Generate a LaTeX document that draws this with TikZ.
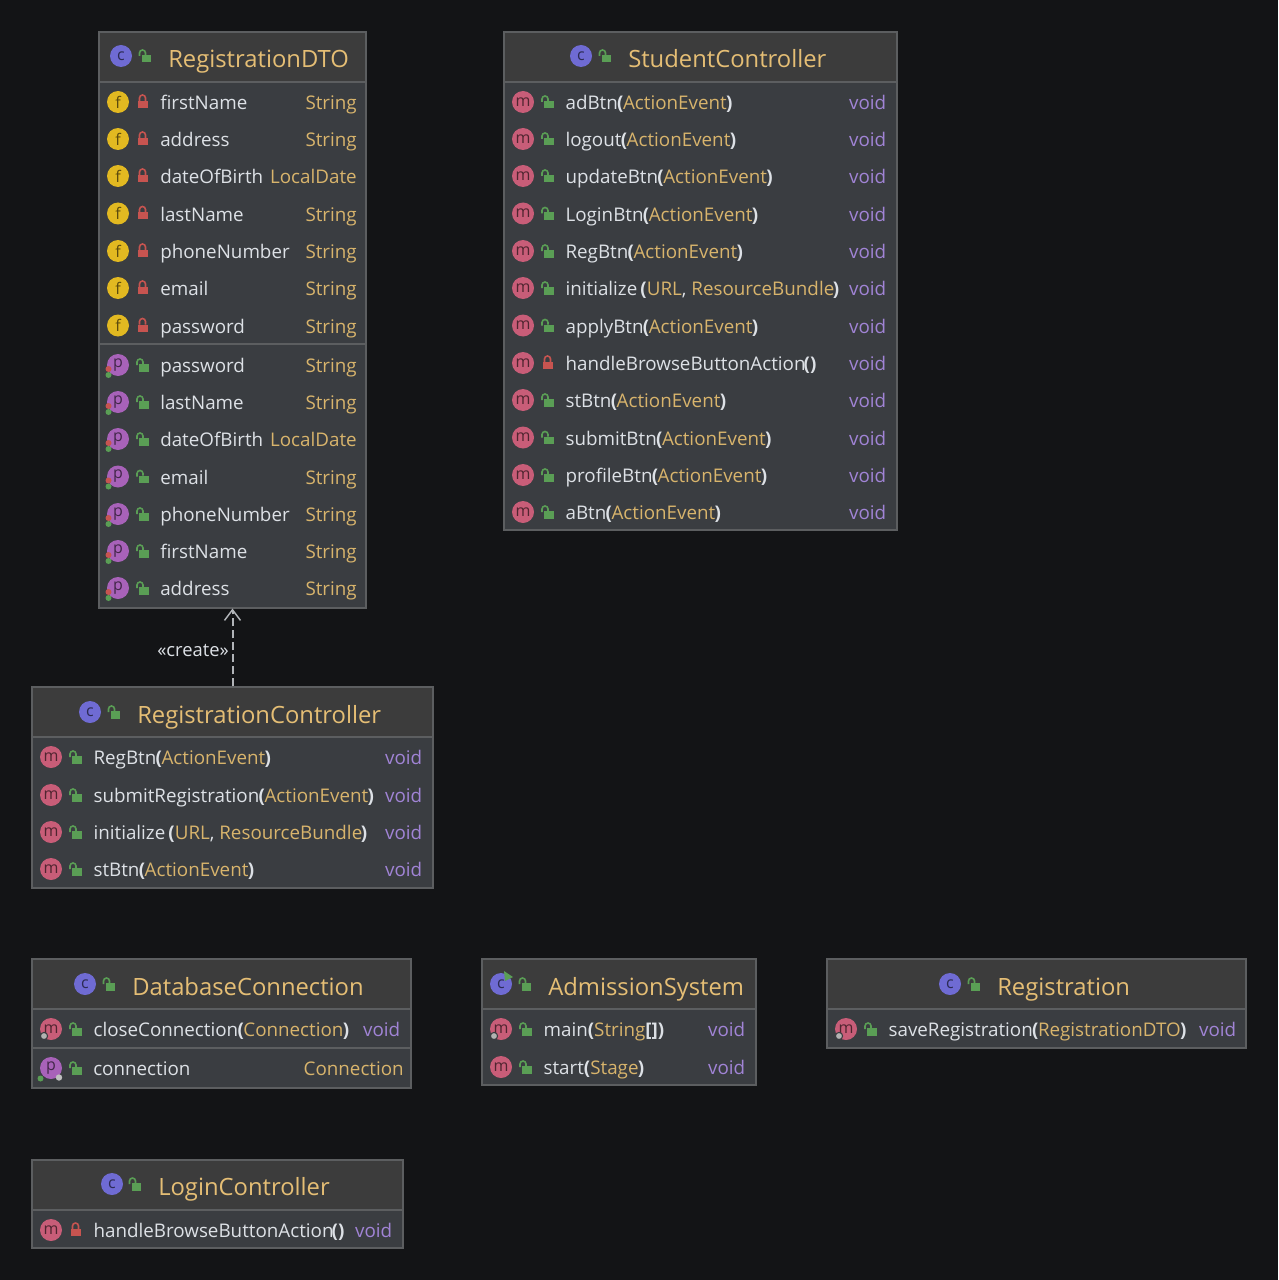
\documentclass[tikz,border=0pt]{standalone}
\usepackage{fontspec}
\setmainfont{Open Sans}
\usetikzlibrary{arrows.meta,fit}

\definecolor{canvasbg}{HTML}{131416}
\definecolor{rowbg}{HTML}{3A3D41}
\definecolor{headbg}{HTML}{3C3C3C}
\definecolor{boxline}{HTML}{5C5E60}
\definecolor{nametext}{HTML}{DDE1E6}
\definecolor{typetan}{HTML}{D8B46C}
\definecolor{voidviolet}{HTML}{A184D6}
\definecolor{titletan}{HTML}{E5BE75}
\definecolor{iconc}{HTML}{6F6BD3}
\definecolor{iconf}{HTML}{E2B921}
\definecolor{iconm}{HTML}{C85D78}
\definecolor{iconp}{HTML}{A862B9}
\definecolor{lockgreen}{HTML}{5A9E55}
\definecolor{lockred}{HTML}{C75450}

\tikzset{
    x=0.75pt, y=-0.75pt,
    classbox/.style = {draw=boxline, line width=.8pt, fill=rowbg, inner sep=0pt},
    classhead/.style = {draw=boxline, line width=.8pt, fill=headbg, inner sep=0pt},
    rowname/.style = {anchor=base west, inner sep=0pt, text=nametext, font=\fontsize{14.1}{16}\selectfont},
    rowtype/.style = {anchor=base east, inner sep=0pt, text=typetan, font=\fontsize{14.1}{16}\selectfont},
    rowvoid/.style = {rowtype, text=voidviolet},
    classtitle/.style = {anchor=base west, inner sep=0pt, text=titletan, font=\fontsize{17.85}{20}\selectfont},
    createdep/.style = {draw=nametext!80!black, line width=1.5pt, dash pattern=on 6pt off 3pt, -{Straight Barb[length=8pt,width=12pt,line width=1.1pt]}},
    iconletter/.style = {inner sep=0pt, text=black!60!#1, font=\fontsize{12}{12}\selectfont},
    pics/lockopen/.style = {code={
        \fill[lockgreen] (-3.5,-1) rectangle (6,6.5);
        \draw[lockgreen, line width=1.2pt] (-5.5,0) -- (-5.5,-3) arc[start angle=180, end angle=360, radius=3] -- (.5,-1);
    }},
    pics/lockshut/.style = {code={
        \fill[lockred] (-5,-1) rectangle (5,6);
        \draw[lockred, line width=1.2pt] (-3,-1) -- (-3,-4) arc[start angle=180, end angle=360, radius=3] -- (3,-1);
    }},
    pics/dotpair/.style = {code={
        \fill[lockred] (-9.5,4) circle (3);
        \fill[lockgreen] (-9.5,10) circle (3);
    }},
    pics/dotstatic/.style = {code={
        \fill[lockgreen] (-10.5,10.5) circle (3);
        \fill[black!25!white] (8,9.5) circle (3.2);
    }},
    pics/gearstatic/.style = {code={
        \fill[black!30!white, draw=rowbg, line width=.8pt] (-7,7) circle (3.6);
    }},
    pics/runmark/.style = {code={
        \fill[lockgreen] (3,-13) -- (12,-7) -- (4,-3) -- cycle;
    }},
}

% one class box, corners given in pixels of the picture
\newcommand{\classframe}[6]{%
    \node[classbox, fit={(#2,#3) (#4,#5)}] (#1) {};
    \node[classhead, fit={(#2,#3) (#4,#6)}] (#1-head) {};
}
\newcommand{\classlabel}[5]{%
    \node[circle, fill=iconc, minimum size=16.5pt, inner sep=0pt] (#1-icon) at (#2,#4-2) {};
    \node[iconletter=iconc] at (#1-icon) {c};
    \pic at (#3,#4-2) {lockopen};
    \node[classtitle] (#1-title) at (#3+23,#4+9.5) {#5};
}
% glyph of a row: color, letter
\newcommand{\rowicon}[4]{%
    \node[circle, fill=#3, minimum size=16.5pt, inner sep=0pt] (#1) at (#2) {};
    \node[iconletter=#3] at (#1) {#4};
}
\newcommand{\rowline}[7]{%
    \rowicon{#1-icon}{\boxl,#2}{#3}{#4}
    \pic at (\boxl+24.5,#2) {#5};
    \node[rowname] (#1-name) at (\boxl+42.3,#2+7.6) {#6};
    \node[rowvoid] (#1-type) at (\boxr,#2+7.6) {#7};
}
\newcommand{\fieldline}[7]{%
    \rowicon{#1-icon}{\boxl,#2}{#3}{#4}
    \pic at (\boxl+24.5,#2) {#5};
    \node[rowname] (#1-name) at (\boxl+42,#2+7.6) {#6};
    \node[rowtype] (#1-type) at (\boxr,#2+7.6) {#7};
}
\newcommand{\ptan}[1]{\textcolor{typetan}{#1}}
\newcommand{\mpar}[1]{\kern-.5pt\textbf{(}\kern-.4pt\ptan{#1}\kern-.5pt\textbf{)}}

\begin{document}
\begin{tikzpicture}
    \useasboundingbox[fill=canvasbg] (0,0) rectangle (1278,1280);

    % RegistrationDTO
    \classframe{dto}{99}{32}{366}{608}{82}
    \classlabel{dto}{121}{145}{58}{RegistrationDTO}
    \draw[boxline, line width=.8pt] (dto.west |- 0,344) -- (dto.east |- 0,344);
    \def\boxl{118}\def\boxr{357}
    \fieldline{dtof1}{102}{iconf}{f}{lockshut}{firstName}{String}
    \fieldline{dtof2}{139}{iconf}{f}{lockshut}{address}{String}
    \fieldline{dtof3}{176}{iconf}{f}{lockshut}{dateOfBirth}{LocalDate}
    \fieldline{dtof4}{213.5}{iconf}{f}{lockshut}{lastName}{String}
    \fieldline{dtof5}{251}{iconf}{f}{lockshut}{phoneNumber}{String}
    \fieldline{dtof6}{288}{iconf}{f}{lockshut}{email}{String}
    \fieldline{dtof7}{325.5}{iconf}{f}{lockshut}{password}{String}
    \fieldline{dtop1}{365}{iconp}{p}{lockopen}{password}{String}
    \fieldline{dtop2}{402}{iconp}{p}{lockopen}{lastName}{String}
    \fieldline{dtop3}{439}{iconp}{p}{lockopen}{dateOfBirth}{LocalDate}
    \fieldline{dtop4}{476.5}{iconp}{p}{lockopen}{email}{String}
    \fieldline{dtop5}{514}{iconp}{p}{lockopen}{phoneNumber}{String}
    \fieldline{dtop6}{551}{iconp}{p}{lockopen}{firstName}{String}
    \fieldline{dtop7}{588}{iconp}{p}{lockopen}{address}{String}
    \pic at (118,365) {dotpair};
    \pic at (118,402) {dotpair};
    \pic at (118,439) {dotpair};
    \pic at (118,476.5) {dotpair};
    \pic at (118,514) {dotpair};
    \pic at (118,551) {dotpair};
    \pic at (118,588) {dotpair};

    % StudentController
    \classframe{student}{504}{32}{897}{530}{82}
    \classlabel{student}{581}{605}{58}{StudentController}
    \def\boxl{523}\def\boxr{886.5}
    \rowline{stu1}{102}{iconm}{m}{lockopen}{adBtn\mpar{ActionEvent}}{void}
    \rowline{stu2}{139}{iconm}{m}{lockopen}{logout\mpar{ActionEvent}}{void}
    \rowline{stu3}{176}{iconm}{m}{lockopen}{updateBtn\mpar{ActionEvent}}{void}
    \rowline{stu4}{213.5}{iconm}{m}{lockopen}{LoginBtn\mpar{ActionEvent}}{void}
    \rowline{stu5}{251}{iconm}{m}{lockopen}{RegBtn\mpar{ActionEvent}}{void}
    \rowline{stu6}{288}{iconm}{m}{lockopen}{initialize\,\textbf{(}\ptan{URL}, \ptan{ResourceBundle}\kern-1pt\textbf{)}}{void}
    \rowline{stu7}{325.5}{iconm}{m}{lockopen}{applyBtn\mpar{ActionEvent}}{void}
    \rowline{stu8}{363}{iconm}{m}{lockshut}{handleBrowseButtonAction\kern-1.4pt\textbf{()}}{void}
    \rowline{stu9}{400}{iconm}{m}{lockopen}{stBtn\mpar{ActionEvent}}{void}
    \rowline{stu10}{437.5}{iconm}{m}{lockopen}{submitBtn\mpar{ActionEvent}}{void}
    \rowline{stu11}{475}{iconm}{m}{lockopen}{profileBtn\mpar{ActionEvent}}{void}
    \rowline{stu12}{512}{iconm}{m}{lockopen}{aBtn\mpar{ActionEvent}}{void}

    % RegistrationController
    \classframe{regctrl}{32}{687}{433}{888}{737}
    \classlabel{regctrl}{90}{114}{714}{RegistrationController}
    \def\boxl{51}\def\boxr{422.5}
    \rowline{reg1}{757}{iconm}{m}{lockopen}{RegBtn\mpar{ActionEvent}}{void}
    \rowline{reg2}{795}{iconm}{m}{lockopen}{submitRegistration\mpar{ActionEvent}}{void}
    \rowline{reg3}{832}{iconm}{m}{lockopen}{initialize\,\textbf{(}\ptan{URL}, \ptan{ResourceBundle}\kern-1pt\textbf{)}}{void}
    \rowline{reg4}{869}{iconm}{m}{lockopen}{stBtn\mpar{ActionEvent}}{void}

    \draw (regctrl) edge [createdep] node [left=2pt, inner sep=0pt, yshift=-2pt, text=nametext, font=\fontsize{13.8}{14}\selectfont] (createlabel) {«create»} (dto);

    % DatabaseConnection
    \classframe{dbconn}{32}{959}{411}{1088}{1009}
    \classlabel{dbconn}{85}{109}{986}{DatabaseConnection}
    \draw[boxline, line width=.8pt] (dbconn.west |- 0,1048) -- (dbconn.east |- 0,1048);
    \def\boxl{51}\def\boxr{400.5}
    \rowline{db1}{1029}{iconm}{m}{lockopen}{closeConnection\mpar{Connection}}{void}
    \pic at (51,1029) {gearstatic};
    \def\boxr{404}
    \fieldline{db2}{1068}{iconp}{p}{lockopen}{connection}{Connection}
    \pic at (51,1068) {dotstatic};

    % AdmissionSystem
    \classframe{admission}{482}{959}{756}{1085}{1009}
    \classlabel{admission}{501}{525}{986}{AdmissionSystem}
    \pic at (501,984) {runmark};
    \def\boxl{501}\def\boxr{745.5}
    \rowline{adm1}{1029}{iconm}{m}{lockopen}{main\textbf{(}\ptan{String}\textbf{[])}}{void}
    \pic at (501,1029) {gearstatic};
    \rowline{adm2}{1067}{iconm}{m}{lockopen}{start\textbf{(}\ptan{Stage}\kern-.6pt\textbf{)}}{void}

    % Registration
    \classframe{registration}{827}{959}{1246}{1048}{1009}
    \classlabel{registration}{950}{974}{986}{Registration}
    \def\boxl{846}\def\boxr{1236.5}
    \rowline{rgs1}{1029}{iconm}{m}{lockopen}{saveRegistration\mpar{RegistrationDTO}}{void}
    \pic at (846,1029) {gearstatic};

    % LoginController
    \classframe{login}{32}{1160}{403}{1248}{1210}
    \classlabel{login}{112}{135}{1186}{LoginController}
    \def\boxl{51}\def\boxr{392.5}
    \rowline{log1}{1230}{iconm}{m}{lockshut}{handleBrowseButtonAction\kern-1.4pt\textbf{()}}{void}
\end{tikzpicture}
\end{document}
